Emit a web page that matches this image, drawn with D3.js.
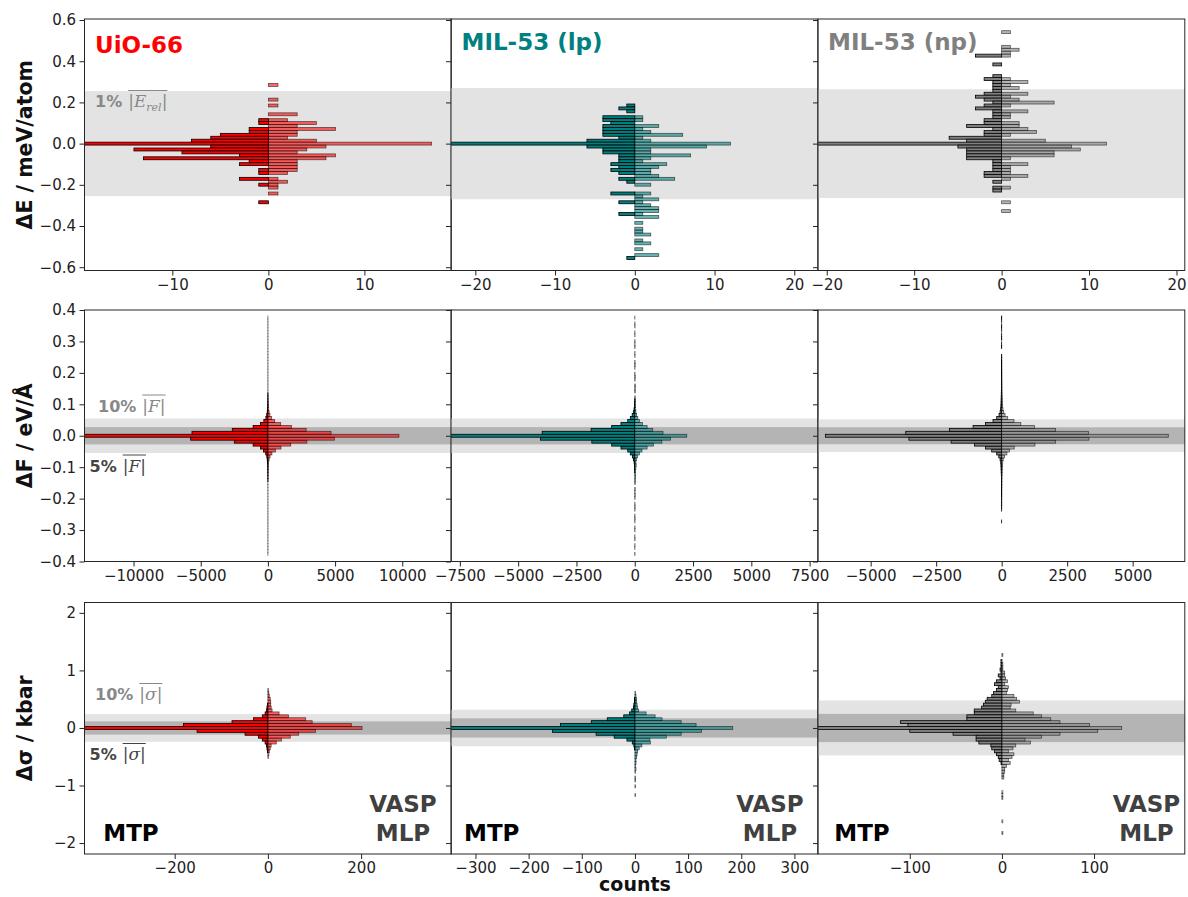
<!DOCTYPE html>
<html><head><meta charset="utf-8">
<script src="https://cdn.jsdelivr.net/npm/d3@7"></script>
<style>
body{margin:0;background:#fff}
svg{display:block}
text{font-family:"DejaVu Sans",sans-serif}
</style>
</head><body>
<svg id="c" width="1188" height="897"></svg>
<script>
// ================= DATA =================
const materials = ["UiO-66", "MIL-53 (lp)", "MIL-53 (np)"];
const matColors = ["#ff0000", "#008080", "#808080"];
const rowLabels = ["ΔE / meV/atom", "ΔF / eV/Å", "Δσ / kbar"];

// ---- Row 1: energy error histograms (bin index k, centre = k * binWidthE) ----
const binWidthE = 0.01424;
const E_uio_bins = [20,15,13,10,8,7,6,5,4,3,2,1,0,-1,-2,-3,-4,-5,-6,-7,-8,-9,-10,-12,-13,-14,-15,-17,-20];
const E_uio_mtp  = [0,0,0,0,1,1,0,2,2,5,6,8,24,6,14,9,3,13,2,3,0,1,1,3,0,1,0,0,1];
const E_uio_vasp = [1,1,1,3,2,5,3,7,3,3,2,5,17,6,4,3,7,6,3,3,3,3,2,1,2,1,1,1,0];

const E_lp_bins = [13,12,11,9,8,7,6,5,4,3,2,1,0,-1,-2,-3,-4,-5,-6,-7,-8,-9,-10,-11,-12,-13,-14,-17,-18,-19,-20,-21,-22,-23,-24,-25,-27,-29,-30,-31,-33,-34,-36,-38,-39];
const E_lp_mtp  = [1,2,1,4,4,3,4,4,4,4,2,6,26,6,4,4,2,2,2,3,2,3,2,0,2,1,0,3,0,0,2,0,0,0,2,0,0,0,0,0,0,0,0,0,1];
const E_lp_vasp = [0,0,0,1,1,0,3,1,2,6,1,2,12,9,2,2,7,2,1,4,3,2,2,3,5,0,2,2,1,3,1,2,3,3,1,3,1,1,1,2,1,2,1,3,0];

const E_np_bins = [38,33,32,31,30,27,23,22,21,20,19,18,17,16,15,14,13,12,11,10,9,8,7,6,5,4,3,2,1,0,-1,-2,-3,-4,-5,-6,-7,-8,-9,-10,-11,-12,-13,-15,-16,-20,-23];
const E_np_mtp  = [0,0,0,0,3,1,1,2,1,1,1,1,2,3,2,1,2,3,1,1,1,2,2,4,1,2,2,6,4,24,5,4,4,4,4,1,1,1,1,2,2,0,1,1,1,0,0];
const E_np_vasp = [1,1,2,1,1,0,0,1,3,1,2,0,3,1,2,6,1,0,3,1,1,0,2,2,3,4,1,0,5,12,8,9,6,6,1,0,3,1,1,1,3,1,0,1,0,1,1];

// ---- Row 2: force error histograms, bins k = -40 .. 40 ----
const binWidthF = 0.0094;
const F_bins = d3.range(-40, 41);
const F_uio_mtp = [0,0,0,0,0,0,0,0,0,0, 0,0,0,0,0,0,0,0,0,0, 0,0,0,0,0,
  3,5,8,12,16,20,30,50,80,160, 330,550,1100,2500,5750, 14500, 5650,2650,1100,550,300,150,90,50,30,20,15,10,6,4,
  0,0,0,0,0,0,0,0,0,0, 0,0,0,0,0,0,0,0,0,0, 0,0,0,0,0,0];
const F_uio_vasp = [3,3,3,3,3,3,3,3,3,3, 3,3,3,3,3,3,3,3,3,3, 3,3,3,3,3,
  6,10,15,20,25,30,50,90,160,300, 560,970,1700,2900,4950, 9750, 4700,2850,1750,950,500,280,150,90,60,40,30,20,12,8,
  3,3,3,3,3,3,3,3,3,3, 3,3,3,3,3,3,3,3,3,3, 3,3,3,3,3,3];
const F_lp_mtp = [0,0,0,0,0,0,0,0,0,0, 0,0,0,0,0,0,0,0,0,0, 0,0,0,0,0,0,0,0,
  5,10,15,25,50,100,190,300,590,990,1840,4040, 8600, 3970,1870,990,590,300,190,110,60,30,15,8,4,
  0,0,0,0,0,0,0,0,0,0, 0,0,0,0,0,0,0,0,0,0, 0,0,0,0,0,0,0,0];
const F_lp_vasp = [12,0,8,10,0,14,8,0,10,12, 0,9,15,10,0,12,16,10,0,14, 18,12,20,0,22,25,30,28,35,45,
  60,50,70,120,200,310,530,800,1160,1530, 2230, 1210,770,530,330,200,130,80,50,40,30,
  25,30,20,0,22,18,25,0,15,20, 12,0,10,18,14,0,12,10,0,15, 8,12,0,10,8,0,12,10,0,8];
const F_np_mtp = [0,0,0,0,0,0,0,0,0,0,0,
  1,0,0,0,1,1,2,1,2,3,3,4,5,6,8,10,14,18,22,28,35,60,110,190,380,620,1040,1930,3540,
  6720,
  3660,1990,1090,620,330,190,100,60,40,30, 24,20,16,14,12,10,9,8,7,6, 5,5,4,3,3,2,2,
  0,0,1,1,0,1,1,0,1,1,0,1,1];
const F_np_vasp = [0,0,0,0,0,0,0,0,0,0,0,0,0,0,0,0,
  1,2,2,3,3,4,5,6,8,10, 12,16,20,25,30,40,60,110,200,300, 480,1270,2060,3330,
  6360,
  3310,2060,1250,730,470,230,130,80,50,35, 28,24,20,16,14,12,10,9,8,7, 6,5,4,4,3,3,2,
  0,0,1,0,1,1,0,1,0,1,1,0,1];

// ---- Row 3: stress error histograms (bin index k, centre = k * binWidthS) ----
const binWidthS = 0.0507;
const S_uio_bins = [13,12,11,10,9,8,7,6,5,4,3,2,1,0,-1,-2,-3,-4,-5,-6,-7,-8,-9,-10];
const S_uio_mtp  = [0,0,0,0,0,1,2,3,6,12,31,77,181,420,152,49,20,12,6,3,2,1,0,0];
const S_uio_vasp = [1,2,3,5,6,6,7,9,24,44,81,95,179,202,102,66,48,29,18,7,5,3,2,1];

const S_lp_bins = [12,11,10,9,8,7,6,5,4,3,2,1,0,-1,-2,-3,-4,-5,-6,-7,-8,-9,-10,-11,-12,-13,-14,-15,-16,-17,-18,-19,-20,-21,-22,-23];
const S_lp_mtp  = [0,0,1,1,2,3,6,10,21,52,82,140,380,155,73,39,15,5,2,1,0,0,0,0,0,0,0,0,0,0,0,0,0,0,0,0];
const S_lp_vasp = [1,2,3,3,4,5,7,21,38,51,87,115,184,125,87,59,28,29,13,8,5,4,3,2,2,1,2,1,0,1,1,0,1,0,0,1];

const S_np_bins = [25,23,22,21,20,19,18,17,16,15,14,13,12,11,10,9,8,7,6,5,4,3,2,1,0,-1,-2,-3,-4,-5,-6,-7,-8,-9,-10,-11,-12,-13,-14,-15,-16,-17,-22,-23,-24,-32,-36];
const S_np_mtp  = [0,1,1,1,2,1,4,2,6,8,4,6,9,11,16,18,20,22,30,30,38,38,110,102,215,100,53,28,28,25,12,11,8,6,4,3,1,0,0,0,0,0,0,0,0,0,0];
const S_np_vasp = [1,0,1,1,1,3,3,4,6,3,7,6,5,13,16,19,10,9,15,34,43,53,63,95,130,104,63,43,25,31,15,12,7,13,11,7,9,5,3,3,2,2,1,1,1,1,1];

// ---- axes ----
const yTicksE = [0.6,0.4,0.2,0,-0.2,-0.4,-0.6];
const yTicksF = [0.4,0.3,0.2,0.1,0,-0.1,-0.2,-0.3,-0.4];
const yTicksS = [2,1,0,-1,-2];
const ylimE = [-0.616, 0.605];
const ylimF = [-0.4, 0.4];
const ylimS = [-2.19, 2.18];
const xlimE = [[-19.15,19.05],[-23.05,22.95],[-21,20.95]];
const xlimF = [[-13650,13650],[-7880,7850],[-7010,6990]];
const xlimS = [[-393.5,393.5],[-346,344],[-199.6,198.5]];
const xTicksE = [[-10,0,10],[-20,-10,0,10,20],[-20,-10,0,10,20]];
const xTicksF = [[-10000,-5000,0,5000,10000],[-7500,-5000,-2500,0,2500,5000,7500],[-5000,-2500,0,2500,5000]];
const xTicksS = [[-200,0,200],[-300,-200,-100,0,100,200,300],[-100,0,100]];

// ---- reference bands (half widths) ----
const bandE1  = [0.255, 0.27, 0.264];   // 1% |E_rel|
const bandF10 = [0.055, 0.055, 0.052];  // 10% |F|
const bandF5  = [0.0275, 0.0275, 0.027];// 5% |F|
const bandS10 = [0.24, 0.317, 0.478];   // 10% |sigma|
const bandS5  = [0.115, 0.167, 0.245];  // 5% |sigma|

// ================= DRAW =================
const svg = d3.select("#c");
svg.append("rect").attr("width",1188).attr("height",897).attr("fill","#fff");

const colX = [84.5, 451, 818];
const colW = 366.8;
const rowY = [19, 310, 602.5];
const rowH = 251.5;
const LIGHT = "#e3e3e3", DARK = "#b4b4b4";

const rows = [
  { bw: binWidthE, ylim: ylimE, yt: yTicksE, yf: d3.format(".1f"),
    data: [[E_uio_bins,E_uio_mtp,E_uio_vasp],[E_lp_bins,E_lp_mtp,E_lp_vasp],[E_np_bins,E_np_mtp,E_np_vasp]],
    xlim: xlimE, xt: xTicksE,
    bands: c => [{h: bandE1[c], col: LIGHT}] },
  { bw: binWidthF, ylim: ylimF, yt: yTicksF, yf: d3.format(".1f"),
    data: [[F_bins,F_uio_mtp,F_uio_vasp],[F_bins,F_lp_mtp,F_lp_vasp],[F_bins,F_np_mtp,F_np_vasp]],
    xlim: xlimF, xt: xTicksF,
    bands: c => [{h: bandF10[c], col: LIGHT},{h: bandF5[c], col: DARK}] },
  { bw: binWidthS, ylim: ylimS, yt: yTicksS, yf: d3.format("d"),
    data: [[S_uio_bins,S_uio_mtp,S_uio_vasp],[S_lp_bins,S_lp_mtp,S_lp_vasp],[S_np_bins,S_np_mtp,S_np_vasp]],
    xlim: xlimS, xt: xTicksS,
    bands: c => [{h: bandS10[c], col: LIGHT},{h: bandS5[c], col: DARK}] }
];

const defs = svg.append("defs");

rows.forEach((R, r) => {
  for (let c = 0; c < 3; c++) {
    const x0 = colX[c], y0 = rowY[r];
    const x = d3.scaleLinear().domain(R.xlim[c]).range([x0, x0 + colW]);
    const y = d3.scaleLinear().domain(R.ylim).range([y0 + rowH, y0]);
    const id = `clip${r}${c}`;
    defs.append("clipPath").attr("id", id).append("rect")
      .attr("x", x0).attr("y", y0).attr("width", colW).attr("height", rowH);
    const g = svg.append("g").attr("clip-path", `url(#${id})`);

    R.bands(c).forEach(b => {
      g.append("rect").attr("x", x0).attr("width", colW)
        .attr("y", y(b.h)).attr("height", y(-b.h) - y(b.h)).attr("fill", b.col);
    });

    const [bins, mtp, vasp] = R.data[c];
    const recs = bins.map((k, i) => ({k, m: mtp[i], v: vasp[i]}));
    const col = matColors[c];
    // MTP (left, negative counts)
    g.selectAll(null).data(recs.filter(d => d.m > 0)).join("rect")
      .attr("x", d => x(-d.m)).attr("width", d => x(0) - x(-d.m))
      .attr("y", d => y((d.k + 0.5) * R.bw)).attr("height", d => y((d.k - 0.5) * R.bw) - y((d.k + 0.5) * R.bw))
      .attr("fill", col).attr("stroke", "#000").attr("stroke-width", 0.8);
    // VASP (right, positive counts)
    g.selectAll(null).data(recs.filter(d => d.v > 0)).join("rect")
      .attr("x", x(0)).attr("width", d => x(d.v) - x(0))
      .attr("y", d => y((d.k + 0.5) * R.bw)).attr("height", d => y((d.k - 0.5) * R.bw) - y((d.k + 0.5) * R.bw))
      .attr("fill", col).attr("fill-opacity", 0.6)
      .attr("stroke", "#000").attr("stroke-opacity", 0.6).attr("stroke-width", 0.8);

    // axes
    const ya = d3.axisLeft(y).tickValues(R.yt).tickSize(5).tickPadding(3.5)
      .tickFormat(c === 0 ? R.yf : () => "");
    const yg = svg.append("g").attr("transform", `translate(${x0},0)`).call(ya);
    const xa = d3.axisBottom(x).tickValues(R.xt[c]).tickSize(5).tickPadding(3.5).tickFormat(d3.format("d"));
    const xg = svg.append("g").attr("transform", `translate(0,${y0 + rowH})`).call(xa);
    [yg, xg].forEach(a => {
      a.select(".domain").remove();
      a.selectAll(".tick line").attr("stroke", "#222").attr("stroke-width", 1);
      a.selectAll(".tick text").attr("fill", "#222").style("font-size", "15px")
        .style("font-family", "'DejaVu Sans', sans-serif");
    });

    svg.append("rect").attr("x", x0).attr("y", y0).attr("width", colW).attr("height", rowH)
      .attr("fill", "none").attr("stroke", "#262626").attr("stroke-width", 1);
  }
  // row label
  svg.append("text").attr("transform", `translate(32,${rowY[r] + rowH / 2}) rotate(-90)`)
    .attr("text-anchor", "middle").style("font-size", "20.5px").style("font-weight", "bold")
    .attr("fill", "#111").text(rowLabels[r]);
});

// titles
const titlePos = [[95, 53], [461.5, 50], [828, 50]];
materials.forEach((m, i) => {
  svg.append("text").attr("x", titlePos[i][0]).attr("y", titlePos[i][1])
    .style("font-size", "23px").style("font-weight", "bold").attr("fill", matColors[i]).text(m);
});

// MTP / VASP MLP labels
const mtpX = [103.3, 464, 834.3];
const vaspX = [403, 770, 1146.5];
for (let c = 0; c < 3; c++) {
  svg.append("text").attr("x", mtpX[c]).attr("y", 841).style("font-size", "23px")
    .style("font-weight", "bold").attr("fill", "#000").text("MTP");
  svg.append("text").attr("x", vaspX[c]).attr("y", 811.5).attr("text-anchor", "middle")
    .style("font-size", "23px").style("font-weight", "bold").attr("fill", "#404040").text("VASP");
  svg.append("text").attr("x", vaspX[c]).attr("y", 840.5).attr("text-anchor", "middle")
    .style("font-size", "23px").style("font-weight", "bold").attr("fill", "#404040").text("MLP");
}

// threshold annotations with overlined math
function mathLabel(x, y, pre, parts, color) {
  const t1 = svg.append("text").attr("x", x).attr("y", y).attr("fill", color)
    .style("font-size", "16px").style("font-weight", "bold").text(pre);
  const w1 = t1.node().getComputedTextLength();
  const mx = x + w1 + 6;
  const t2 = svg.append("text").attr("x", mx).attr("y", y).attr("fill", color)
    .style("font-family", "'DejaVu Serif', serif").style("font-size", "17px");
  parts.forEach(p => {
    const ts = t2.append("tspan").text(p.t);
    if (p.it) ts.style("font-style", "italic");
    if (p.sub) ts.attr("dy", 4).style("font-size", "11px");
    if (p.unsub) ts.attr("dy", -4);
  });
  const w2 = t2.node().getComputedTextLength();
  svg.append("line").attr("x1", mx).attr("x2", mx + w2).attr("y1", y - 16.5).attr("y2", y - 16.5)
    .attr("stroke", color).attr("stroke-width", 1);
}
const absE = [{t: "|"}, {t: "E", it: true}, {t: "rel", it: true, sub: true}, {t: "|", unsub: true}];
const absF = [{t: "|"}, {t: "F", it: true}, {t: "|"}];
const absS = [{t: "|"}, {t: "σ", it: true}, {t: "|"}];
mathLabel(95, 107, "1%", absE, "#888");
mathLabel(98, 411.5, "10%", absF, "#888");
mathLabel(89.5, 471.5, "5%", absF, "#444");
mathLabel(95, 700, "10%", absS, "#888");
mathLabel(89.5, 760, "5%", absS, "#444");

// x label
svg.append("text").attr("x", 635).attr("y", 891).attr("text-anchor", "middle")
  .style("font-size", "19px").style("font-weight", "bold").attr("fill", "#111").text("counts");
</script>
</body></html>
